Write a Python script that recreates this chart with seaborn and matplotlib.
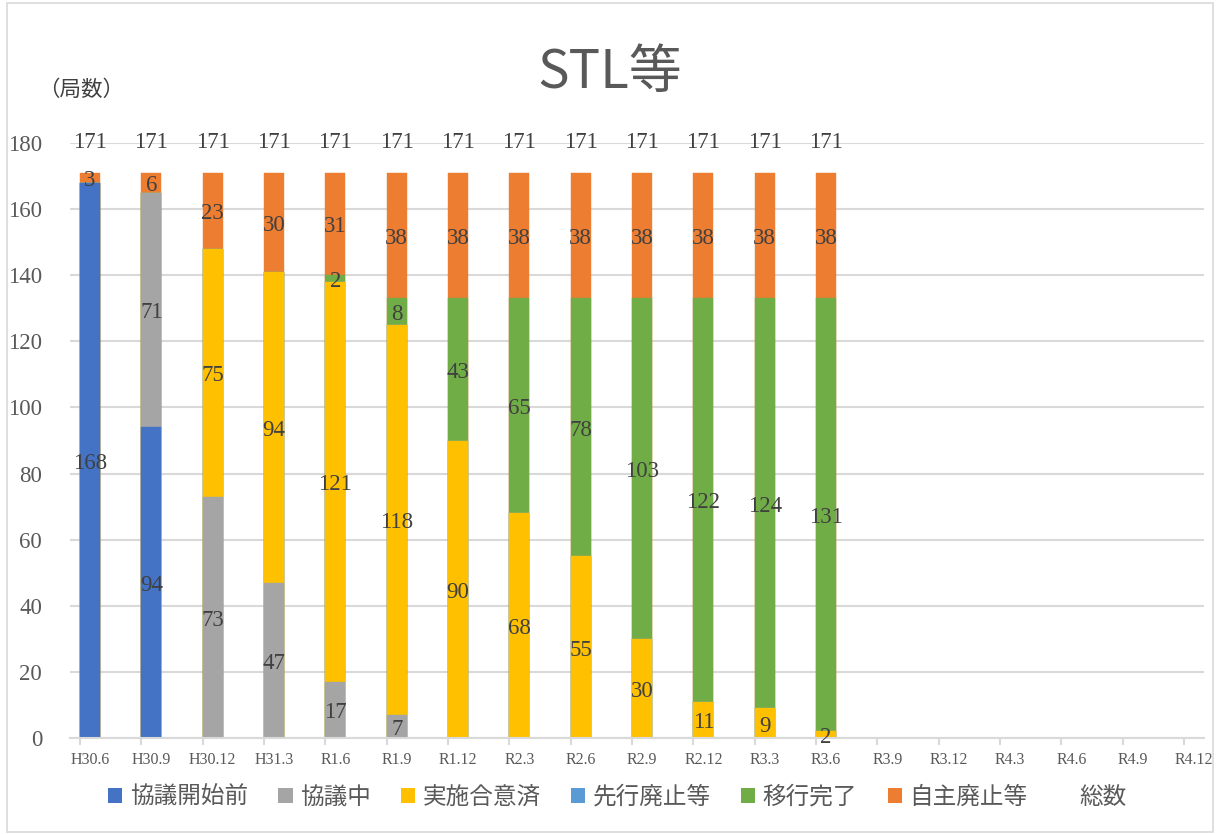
import pandas as pd
import numpy as np
import matplotlib
matplotlib.use("Agg")
import matplotlib.pyplot as plt
from matplotlib.patches import Patch, Rectangle
from matplotlib.lines import Line2D
import seaborn as sns

# Data
periods = ["H30.6", "H30.9", "H30.12", "H31.3", "R1.6", "R1.9", "R1.12", "R2.3", "R2.6",
           "R2.9", "R2.12", "R3.3", "R3.6", "R3.9", "R3.12", "R4.3", "R4.6", "R4.9", "R4.12"]
before_talks = [168, 94, 0, 0, 0, 0, 0, 0, 0, 0, 0, 0, 0]
in_talks = [0, 71, 73, 47, 17, 7, 0, 0, 0, 0, 0, 0, 0]
agreed = [0, 0, 75, 94, 121, 118, 90, 68, 55, 30, 11, 9, 2]
early_abolish = [0, 0, 0, 0, 0, 0, 0, 0, 0, 0, 0, 0, 0]
migrated = [0, 0, 0, 0, 2, 8, 43, 65, 78, 103, 122, 124, 131]
voluntary = [3, 6, 23, 30, 31, 38, 38, 38, 38, 38, 38, 38, 38]
totals = [171] * 13

series_names = ["協議開始前", "協議中", "実施合意済", "先行廃止等", "移行完了", "自主廃止等"]
series_vals = [before_talks, in_talks, agreed, early_abolish, migrated, voluntary]
colors = ["#4472C4", "#A5A5A5", "#FFC000", "#5B9BD5", "#70AD47", "#ED7D31"]

n = len(totals)
df = pd.DataFrame({"period": periods})
for name, vals in zip(series_names, series_vals):
    df[name] = pd.Series(vals + [np.nan] * (len(periods) - n))
cum = df[series_names].cumsum(axis=1)

sns.set_theme(style="white")
plt.rcParams["font.family"] = ["Noto Sans CJK JP", "DejaVu Sans"]

fig = plt.figure(figsize=(12.2, 8.34), dpi=100)
ax = fig.add_axes([70 / 1220, 96 / 834, 1134 / 1220, 595 / 834])

bar_w = 0.326
# draw cumulative totals from top layer down so lower layers overlay
for name, col in reversed(list(zip(series_names, colors))):
    sns.barplot(x=df["period"], y=cum[name], order=periods, color=col,
                width=bar_w, errorbar=None, saturation=1, ax=ax, zorder=2,
                edgecolor=col, linewidth=0.3)

# segment labels
num_font = "Liberation Serif"
for i in range(n):
    base = 0
    for vals in series_vals:
        v = vals[i]
        if v > 0:
            ax.text(i, base + v / 2 - 0.9, str(v), ha="center", va="center",
                    fontsize=16.5, family=num_font, color="#404040", zorder=5)
        base += v
    ax.text(i, 180, str(totals[i]), ha="center", va="center", fontsize=16.5,
            family=num_font, color="#404040", clip_on=False, zorder=5)

ax.set_xlim(-0.326, 18.16)
ax.set_ylim(0, 180)
ax.set_yticks(range(0, 181, 20))
ax.yaxis.grid(True, color="#D9D9D9", lw=1.5, zorder=0)
ax.set_axisbelow(True)
ax.set_xlabel("")
ax.set_ylabel("")
for s in ["left", "right", "top"]:
    ax.spines[s].set_visible(False)
ax.spines["bottom"].set_color("#D9D9D9")
ax.spines["bottom"].set_linewidth(1.5)

ax.set_xticks(range(len(periods)))
ax.set_xticklabels(periods, family=num_font, fontsize=11.5, color="#595959")
ax.set_xticks(np.arange(len(periods)) - bar_w / 2, minor=True)
ax.tick_params(axis="x", which="major", length=0, pad=10)
ax.tick_params(axis="x", which="minor", length=5, width=1.5, color="#D9D9D9", bottom=True)
ax.tick_params(axis="y", length=0, pad=20)
for lab in ax.get_yticklabels():
    lab.set_family(num_font)
    lab.set_fontsize(16.5)
    lab.set_color("#595959")

fig.text(0.5, 1 - 72 / 834, "STL等", ha="center", va="center", fontsize=38, color="#595959")
fig.text(38 / 1220, 1 - 90 / 834, "（局数）", ha="left", va="center", fontsize=15.5, color="#404040")

handles = [Patch(facecolor=c, edgecolor="none") for c in colors]
handles.append(Line2D([], [], linestyle="none"))
labels = series_names + ["総数"]
fig.legend(handles, labels, loc="center", bbox_to_anchor=(0.506, 1 - 797 / 834), ncol=7,
           frameon=False, fontsize=17, handlelength=0.6, handleheight=0.6,
           handletextpad=0.3, columnspacing=1.3, labelcolor="#595959")

fig.patches.append(Rectangle((7 / 1220, 2 / 834), 1206 / 1220, 829 / 834, transform=fig.transFigure,
                             fill=False, edgecolor="#D9D9D9", lw=1.2))

fig.savefig("out.png", dpi=100)
